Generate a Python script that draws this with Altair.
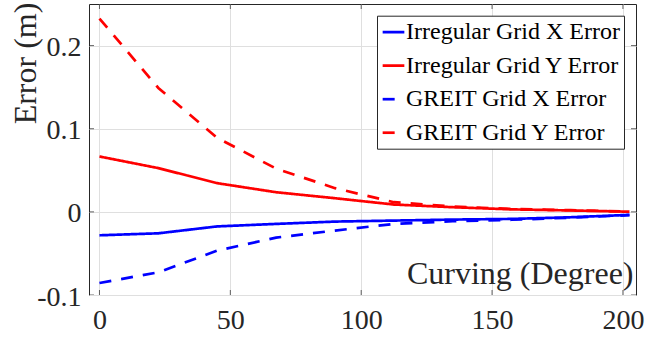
import altair as alt
import pandas as pd

# ---- data ----
curving = [0, 22.5, 45, 67.5, 90, 112.5, 135, 157.5, 180, 202.5]
irregular_x = [-0.0282, -0.0258, -0.0175, -0.0145, -0.0117, -0.0105, -0.0093, -0.0085, -0.0065, -0.0036]
irregular_y = [0.0666, 0.0526, 0.0345, 0.0236, 0.0164, 0.0088, 0.0056, 0.0030, 0.0017, 0.0002]
greit_x = [-0.0856, -0.0727, -0.0466, -0.0310, -0.0225, -0.0145, -0.0113, -0.0095, -0.0070, -0.0040]
greit_y = [0.2325, 0.1490, 0.0890, 0.0520, 0.0285, 0.0116, 0.0064, 0.0035, 0.0020, 0.0003]

series_names = [
    "Irregular Grid X Error",
    "Irregular Grid Y Error",
    "GREIT Grid X Error",
    "GREIT Grid Y Error",
]
series_colors = ["#0000ff", "#ff0000", "#0000ff", "#ff0000"]
series_dash = [[1, 0], [1, 0], [12, 10], [12, 10]]

x_ticks = [0, 50, 100, 150, 200]
y_ticks = [-0.1, 0, 0.1, 0.2]
x_domain = [-4, 205]
y_domain = [-0.1, 0.25]

rows = []
for name, vals in zip(series_names, [irregular_x, irregular_y, greit_x, greit_y]):
    for c, v in zip(curving, vals):
        rows.append({"curving": c, "error": v, "series": name})
df = pd.DataFrame(rows)

FONT = "Liberation Serif"
AX = "#262626"

xscale = alt.Scale(domain=x_domain, nice=False, zero=False)
yscale = alt.Scale(domain=y_domain, nice=False, zero=False)

x_axis = alt.Axis(
    values=x_ticks,
    title="Curving (Degree)",
    titleX=544,
    titleY=-11.4,
    titleAlign="right",
    titleBaseline="alphabetic",
    labelPadding=11,
    labelFont=FONT,
    titleFont=FONT,
)
y_axis = alt.Axis(
    values=y_ticks,
    title="Error (m)",
    titleAngle=270,
    titleX=-54,
    titleY=59,
    titleAlign="center",
    titleBaseline="alphabetic",
    labelExpr="'' + datum.value",
    labelPadding=8,
    labelOffset=2,
    labelFont=FONT,
    titleFont=FONT,
)

legend = alt.Legend(
    title=None,
    orient="none",
    legendX=288,
    legendY=11.7,
    labelFont=FONT,
)

lines = alt.Chart(df).mark_line(strokeWidth=2.7, clip=True).encode(
    x=alt.X("curving:Q", scale=xscale, axis=x_axis),
    y=alt.Y("error:Q", scale=yscale, axis=y_axis),
    color=alt.Color(
        "series:N",
        scale=alt.Scale(domain=series_names, range=series_colors),
        legend=legend,
    ),
    strokeDash=alt.StrokeDash(
        "series:N",
        scale=alt.Scale(domain=series_names, range=series_dash),
        legend=legend,
    ),
)

# inward tick marks on all four sides (clipped halves of centred ticks)
xt = pd.DataFrame({"t": x_ticks, "lo": y_domain[0], "hi": y_domain[1]})
yt = pd.DataFrame({"t": y_ticks, "lo": x_domain[0], "hi": x_domain[1]})
tick_style = dict(size=10, thickness=1, color=AX, clip=True)

bottom_ticks = alt.Chart(xt).mark_tick(orient="vertical", **tick_style).encode(
    x=alt.X("t:Q", scale=xscale, axis=x_axis), y=alt.Y("lo:Q", scale=yscale, axis=y_axis)
)
top_ticks = alt.Chart(xt).mark_tick(orient="vertical", **tick_style).encode(
    x=alt.X("t:Q", scale=xscale, axis=x_axis), y=alt.Y("hi:Q", scale=yscale, axis=y_axis)
)
left_ticks = alt.Chart(yt).mark_tick(orient="horizontal", **tick_style).encode(
    y=alt.Y("t:Q", scale=yscale, axis=y_axis), x=alt.X("lo:Q", scale=xscale, axis=x_axis)
)
right_ticks = alt.Chart(yt).mark_tick(orient="horizontal", **tick_style).encode(
    y=alt.Y("t:Q", scale=yscale, axis=y_axis), x=alt.X("hi:Q", scale=xscale, axis=x_axis)
)

chart = (
    alt.layer(lines, bottom_ticks, top_ticks, left_ticks, right_ticks)
    .properties(
        width=547,
        height=291,
        autosize=alt.AutoSizeParams(type="none"),
        padding={"left": 89, "top": 4, "right": 9, "bottom": 43},
        background="white",
    )
    .configure(font=FONT)
    .configure_view(stroke=AX, strokeWidth=1)
    .configure_axis(
        titleFont=FONT,
        titleFontSize=32,
        titleFontWeight="normal",
        titleColor=AX,
        labelFont=FONT,
        labelFontSize=28,
        labelColor=AX,
        domain=False,
        ticks=False,
        tickSize=0,
        grid=True,
        gridColor="#dfdfdf",
        gridWidth=1,
    )
    .configure_legend(
        padding=4,
        fillColor="white",
        strokeColor=AX,
        symbolType="stroke",
        symbolSize=470,
        symbolStrokeWidth=2.7,
        labelFont=FONT,
        labelFontSize=24,
        labelColor="black",
        labelLimit=400,
        labelOffset=0,
        rowPadding=8.5,
    )
)

chart.save("out.html", embed_options={"renderer": "svg", "actions": False})
